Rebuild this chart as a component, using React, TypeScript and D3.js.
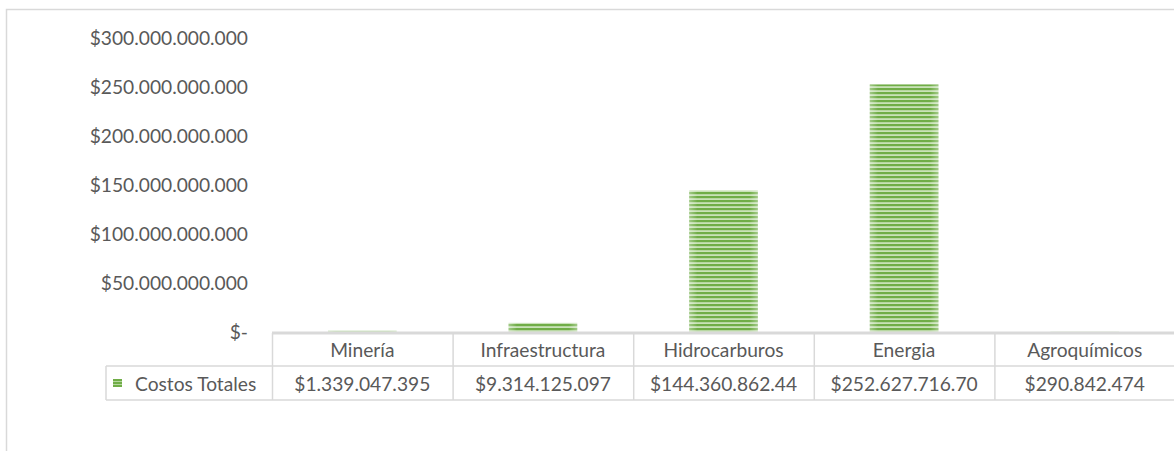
import React from "react";
import * as d3 from "d3";

const categories = ["Minería", "Infraestructura", "Hidrocarburos", "Energia", "Agroquímicos"];
const values = [1339047395, 9314125097, 144360862440, 252627716700, 290842474];
const valueLabels = ["$1.339.047.395", "$9.314.125.097", "$144.360.862.44", "$252.627.716.70", "$290.842.474"];
const seriesName = "Costos Totales";
const yTicks = [0, 50e9, 100e9, 150e9, 200e9, 250e9, 300e9];
const yTickLabels = ["$-", "$50.000.000.000", "$100.000.000.000", "$150.000.000.000", "$200.000.000.000", "$250.000.000.000", "$300.000.000.000"];

const W = 1174;
const H = 451;
const FONT = "Lato, 'Open Sans', sans-serif";
const FS = 19.2;
const TEXT = "#595959";
const GRID = "#d9d9d9";
const GREEN = "#70ad47";

export default function App() {
  const x = d3.scaleBand<string>().domain(categories).range([272, 1175]).paddingInner(0).paddingOuter(0);
  const y = d3.scaleLinear().domain([0, 300e9]).range([332, 38]);
  const bw = x.bandwidth();
  const barW = bw * 0.38;
  const headerTop = 333;
  const rowTop = 366;
  const rowBottom = 400;
  const legendLeft = 106;

  return (
    <div style={{ position: "absolute", left: 0, top: 0, width: W, height: H, overflow: "hidden" }}>
      <svg width={W} height={H} style={{ display: "block", background: "#fff" }} fontFamily={FONT}>
        <defs>
          <pattern id="stripes" patternUnits="userSpaceOnUse" width={8} height={4}>
            <rect x={0} y={0} width={8} height={4} fill="#c9e2b8" />
            <rect x={0} y={0} width={8} height={2.2} fill={GREEN} />
          </pattern>
          <pattern id="keyStripes" patternUnits="userSpaceOnUse" x={0} y={379} width={9} height={3}>
            <rect x={0} y={0} width={9} height={3} fill="#b5d69f" />
            <rect x={0} y={0} width={9} height={2} fill={GREEN} />
          </pattern>
          <linearGradient id="edge" x1="0" x2="1" y1="0" y2="0">
            <stop offset="0" stopColor="#fff" stopOpacity={0.35} />
            <stop offset="0.12" stopColor="#fff" stopOpacity={0} />
            <stop offset="0.88" stopColor="#fff" stopOpacity={0} />
            <stop offset="1" stopColor="#fff" stopOpacity={0.35} />
          </linearGradient>
        </defs>
        {/* outer frame */}
        <path d={`M6.5,${H} V9.5 H${W}`} fill="none" stroke={GRID} strokeWidth={1.5} />

        {/* y tick labels */}
        {yTicks.map((t, i) => (
          <text key={t} x={248} y={y(t)} dy="0.35em" textAnchor="end" fontSize={FS} fill={TEXT}>
            {yTickLabels[i]}
          </text>
        ))}

        {/* bars */}
        {categories.map((c, i) => {
          const top = y(values[i]);
          const h = y(0) - top;
          const bx = (x(c) as number) + (bw - barW) / 2;
          return (
            <g key={c}>
              <rect x={bx} y={top} width={barW} height={h} fill="url(#stripes)" />
              <rect x={bx} y={top} width={barW} height={h} fill="url(#edge)" />
            </g>
          );
        })}

        {/* axis line */}
        <line x1={272} x2={W} y1={y(0) + 1} y2={y(0) + 1} stroke={GRID} strokeWidth={3} />

        {/* table lines */}
        {categories.map((c) => (
          <line key={c} x1={(x(c) as number) + 0.5} x2={(x(c) as number) + 0.5} y1={headerTop} y2={rowBottom} stroke={GRID} strokeWidth={1.5} />
        ))}
        <line x1={legendLeft} x2={W} y1={rowTop} y2={rowTop} stroke={GRID} strokeWidth={1.5} />
        <line x1={legendLeft} x2={W} y1={rowBottom} y2={rowBottom} stroke={GRID} strokeWidth={1.5} />
        <line x1={legendLeft} x2={legendLeft} y1={rowTop} y2={rowBottom} stroke={GRID} strokeWidth={1.5} />

        {/* header labels */}
        {categories.map((c) => (
          <text key={c} x={(x(c) as number) + bw / 2} y={(headerTop + rowTop) / 2 + 1} dy="0.35em" textAnchor="middle" fontSize={FS} fill={TEXT}>
            {c}
          </text>
        ))}
        {/* value labels */}
        {categories.map((c, i) => (
          <text key={c} x={(x(c) as number) + bw / 2} y={(rowTop + rowBottom) / 2 + 1} dy="0.35em" textAnchor="middle" fontSize={FS} fill={TEXT}>
            {valueLabels[i]}
          </text>
        ))}
        {/* legend key */}
        <rect x={113} y={379} width={9} height={8} fill="url(#keyStripes)" />
        <text x={135} y={(rowTop + rowBottom) / 2 + 1} dy="0.35em" fontSize={FS} fill={TEXT}>
          {seriesName}
        </text>
      </svg>
    </div>
  );
}
